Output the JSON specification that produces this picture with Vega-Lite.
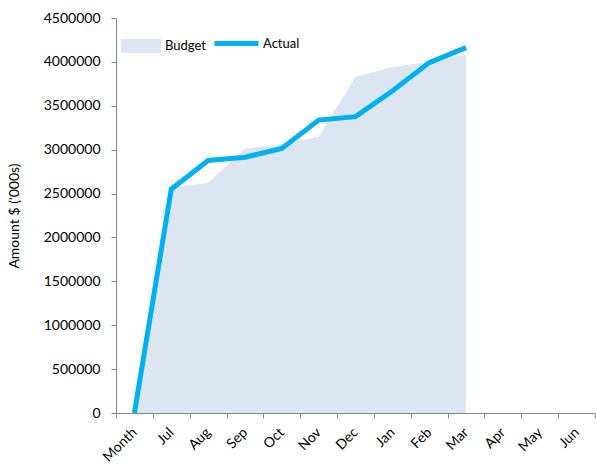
{
  "$schema": "https://vega.github.io/schema/vega-lite/v6.json",
  "width": 479,
  "height": 395,
  "autosize": "none",
  "padding": {"left": 116, "top": 18, "right": 1, "bottom": 55},
  "background": "white",
  "config": {
    "view": {"stroke": null},
    "font": "Lato",
    "axis": {"domainColor": "#868686", "tickColor": "#868686", "labelColor": "#000000", "titleColor": "#000000", "labelFont": "Lato", "titleFont": "Lato", "labelFontSize": 14, "titleFontSize": 14, "titleFontWeight": "normal", "grid": false}
  },
  "data": {
    "values": [
      {"month": "Month", "budget": 0, "actual": 0},
      {"month": "Jul", "budget": 2570000, "actual": 2550000},
      {"month": "Aug", "budget": 2620000, "actual": 2877000},
      {"month": "Sep", "budget": 3014000, "actual": 2914000},
      {"month": "Oct", "budget": 3059000, "actual": 3014000},
      {"month": "Nov", "budget": 3147000, "actual": 3337000},
      {"month": "Dec", "budget": 3832000, "actual": 3376000},
      {"month": "Jan", "budget": 3942000, "actual": 3668000},
      {"month": "Feb", "budget": 3999000, "actual": 3992000},
      {"month": "Mar", "budget": 4087000, "actual": 4163000},
      {"month": "Apr", "budget": null, "actual": null},
      {"month": "May", "budget": null, "actual": null},
      {"month": "Jun", "budget": null, "actual": null}
    ]
  },
  "encoding": {
    "x": {
      "field": "month",
      "type": "ordinal",
      "bandPosition": 0.5,
      "scale": {"type": "band", "domain": ["Month", "Jul", "Aug", "Sep", "Oct", "Nov", "Dec", "Jan", "Feb", "Mar", "Apr", "May", "Jun"], "paddingInner": 0, "paddingOuter": 0},
      "axis": {"title": null, "tickBand": "extent", "labelAngle": -45, "labelAlign": "right", "labelBaseline": "middle", "tickSize": 5, "labelPadding": 12}
    }
  },
  "layer": [
    {
      "mark": {"type": "area", "opacity": 1},
      "encoding": {
        "y": {
          "field": "budget",
          "type": "quantitative",
          "scale": {"domain": [0, 4500000]},
          "axis": {"title": "Amount $ ('000s)", "values": [0, 500000, 1000000, 1500000, 2000000, 2500000, 3000000, 3500000, 4000000, 4500000], "format": "d", "tickSize": 5, "labelPadding": 11, "titlePadding": 22}
        },
        "fill": {
          "datum": "Budget",
          "scale": {"domain": ["Budget"], "range": ["#DCE6F2"]},
          "legend": {"title": null, "orient": "none", "legendX": 5, "legendY": 8, "padding": 0, "symbolType": "M-1,-0.35H1V0.35H-1Z", "symbolSize": 1600, "symbolOpacity": 1, "symbolStrokeWidth": 0, "labelFontSize": 13, "labelFont": "Lato", "labelOffset": 4}
        }
      }
    },
    {
      "mark": {"type": "line", "strokeWidth": 5},
      "encoding": {
        "y": {"field": "actual", "type": "quantitative"},
        "stroke": {
          "datum": "Actual",
          "scale": {"domain": ["Actual"], "range": ["#00B0F0"]},
          "legend": {"title": null, "orient": "none", "legendX": 96, "legendY": 1, "padding": 0, "symbolType": "stroke", "symbolSize": 1936, "symbolStrokeWidth": 5, "labelFontSize": 13, "labelFont": "Lato", "labelOffset": 2}
        }
      }
    }
  ]
}
